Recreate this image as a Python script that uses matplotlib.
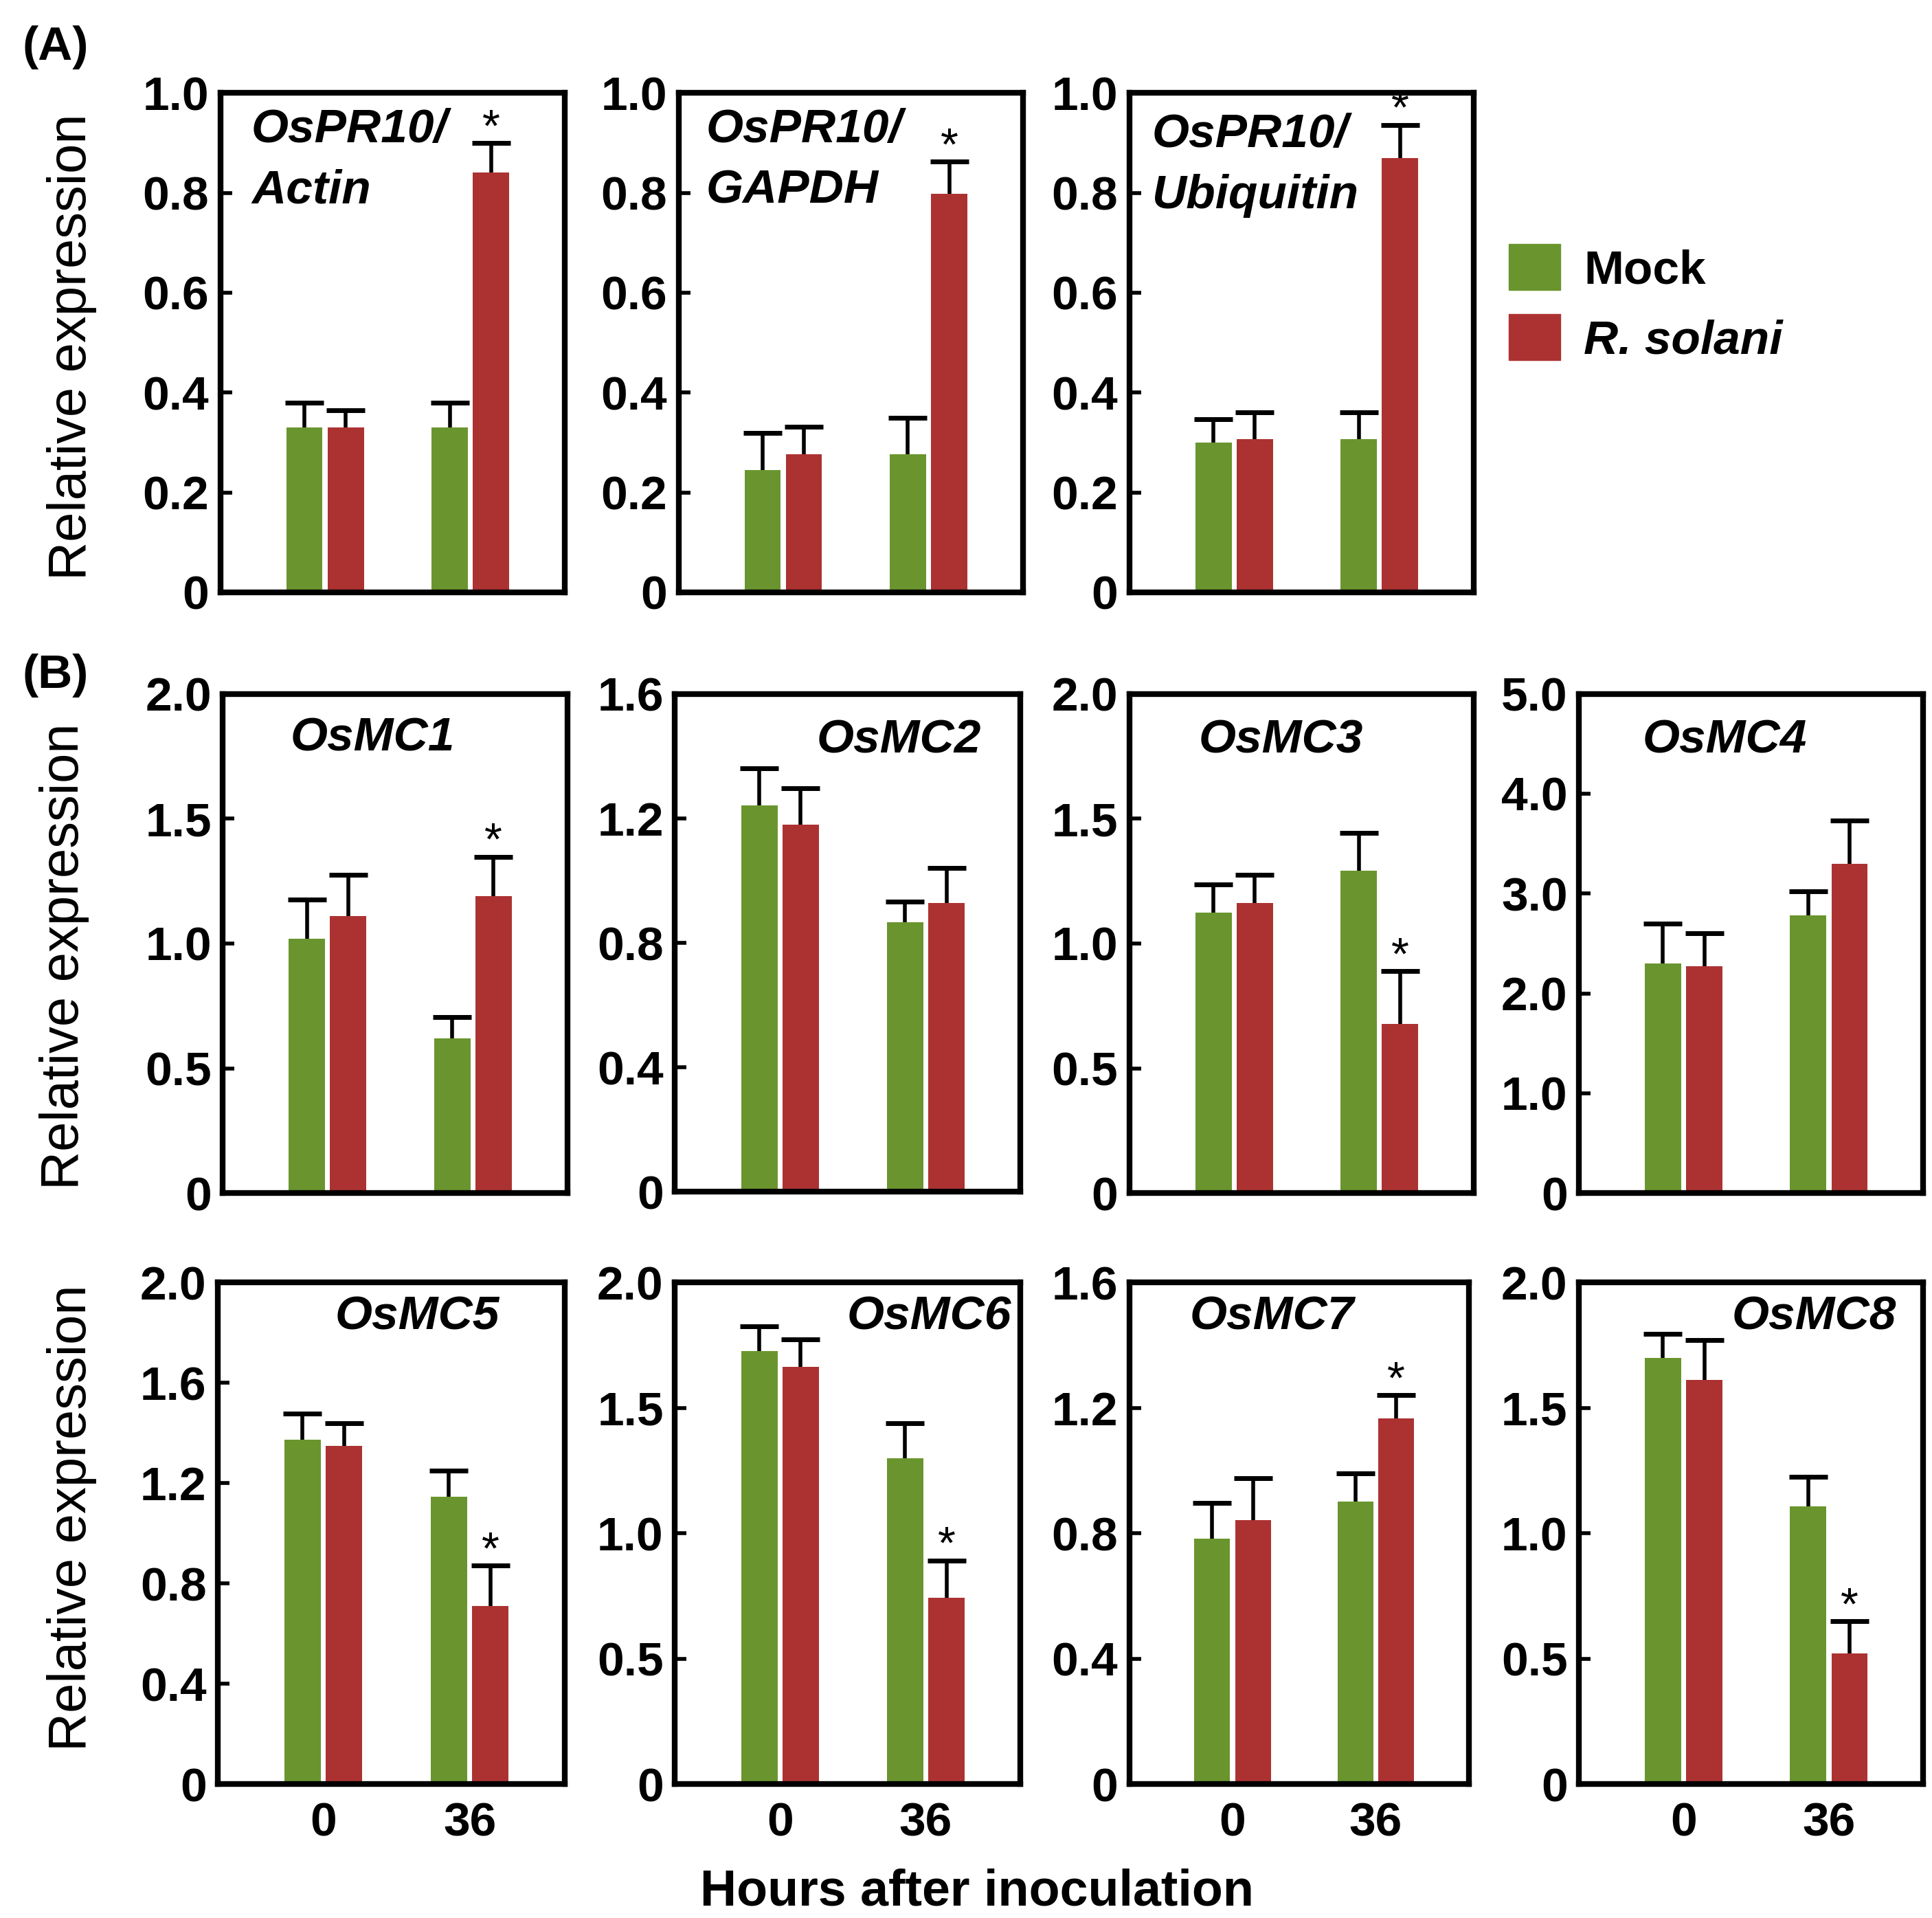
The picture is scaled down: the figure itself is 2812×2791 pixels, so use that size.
import matplotlib.pyplot as plt
from matplotlib.patches import Patch

plt.rcParams['font.family'] = ['Liberation Sans', 'DejaVu Sans']

# data: [0 h, 36 h]
genes = ['OsPR10/Actin', 'OsPR10/GAPDH', 'OsPR10/Ubiquitin',
         'OsMC1', 'OsMC2', 'OsMC3', 'OsMC4',
         'OsMC5', 'OsMC6', 'OsMC7', 'OsMC8']
hours = ['0', '36']
mock = [[0.33, 0.33], [0.245, 0.276], [0.30, 0.307],
        [1.02, 0.62], [1.241, 0.867], [1.123, 1.293], [2.30, 2.78],
        [1.373, 1.147], [1.727, 1.299], [0.782, 0.902], [1.70, 1.107]]
mock_sd = [[0.05, 0.05], [0.074, 0.074], [0.047, 0.054],
           [0.156, 0.086], [0.12, 0.065], [0.113, 0.151], [0.40, 0.24],
           [0.103, 0.103], [0.099, 0.139], [0.114, 0.089], [0.095, 0.119]]
rsol = [[0.33, 0.84], [0.276, 0.798], [0.307, 0.869],
        [1.11, 1.19], [1.179, 0.929], [1.161, 0.677], [2.27, 3.30],
        [1.349, 0.71], [1.664, 0.743], [0.843, 1.166], [1.61, 0.52]]
rsol_sd = [[0.035, 0.06], [0.056, 0.064], [0.054, 0.067],
           [0.165, 0.158], [0.118, 0.111], [0.114, 0.213], [0.33, 0.43],
           [0.089, 0.162], [0.11, 0.149], [0.133, 0.075], [0.16, 0.13]]
signif = [True, True, True, True, False, True, False, True, True, True, True]
y_max = [1.0, 1.0, 1.0, 2.0, 1.6, 2.0, 5.0, 2.0, 2.0, 1.6, 2.0]
y_step = [0.2, 0.2, 0.2, 0.5, 0.4, 0.5, 1.0, 0.4, 0.5, 0.4, 0.5]

green = '#6A952E'
red = '#AC3232'
FS = 50

W, H = 1560, 1548  # reference layout units
def box(l, t, r, b):
    return [l / W, 1 - b / H, (r - l) / W, (b - t) / H]

boxes = [box(178, 75, 456, 478), box(548, 75, 826, 478), box(912, 75, 1190, 478),
         box(180, 560, 458, 963), box(545, 560, 824, 962), box(912, 560, 1190, 963), box(1275, 560, 1553, 963),
         box(176, 1035, 456, 1440), box(545, 1035, 824, 1440), box(912, 1035, 1186, 1440), box(1275, 1035, 1553, 1440)]

# gene label placement (x, y in axes fraction, ha)
label_pos = [(0.09, 0.97, 'left'), (0.079, 0.97, 'left'), (0.065, 0.96, 'left'),
             (0.435, 0.955, 'center'), (0.649, 0.95, 'center'), (0.439, 0.95, 'center'), (0.424, 0.95, 'center'),
             (0.575, 0.975, 'center'), (0.735, 0.975, 'center'), (0.42, 0.975, 'center'), (0.683, 0.975, 'center')]

fig = plt.figure(figsize=(28.12, 27.91), dpi=100)

x = [0, 1]
bw = 0.25
off = 0.142
for i in range(len(genes)):
    ax = fig.add_axes(boxes[i])
    xm = [v - off for v in x]
    xr = [v + off for v in x]
    ekw = dict(elinewidth=4, capsize=20, capthick=5, ecolor='black')
    b1 = ax.bar(xm, mock[i], width=bw, color=green, yerr=[[0, 0], mock_sd[i]], error_kw=ekw, zorder=2)
    b2 = ax.bar(xr, rsol[i], width=bw, color=red, yerr=[[0, 0], rsol_sd[i]], error_kw=ekw, zorder=2)
    # only the upper cap, like the original T-bars
    for b in (b1, b2):
        b.errorbar.lines[1][0].set_visible(False)
    if signif[i]:
        ax.annotate('*', (xr[1], rsol[i][1] + rsol_sd[i][1]), xytext=(0, 2),
                    textcoords='offset points', ha='center', va='baseline', fontsize=48)
    ax.set_xlim(-0.72, 1.65)
    ax.set_ylim(0, y_max[i])
    n = int(round(y_max[i] / y_step[i]))
    ticks = [k * y_step[i] for k in range(n + 1)]
    ax.set_yticks(ticks)
    ax.set_yticklabels(['0' if t == 0 else f'{t:.1f}' for t in ticks], fontsize=FS, fontweight='bold')
    ax.tick_params(axis='y', direction='in', length=12, width=4, pad=12)
    ax.tick_params(axis='x', length=0, pad=18)
    if i >= 7:
        ax.set_xticks(x)
        ax.set_xticklabels(hours, fontsize=FS, fontweight='bold')
    else:
        ax.set_xticks([])
    for s in ax.spines.values():
        s.set_linewidth(6)
    lx, ly, ha = label_pos[i]
    if '/' in genes[i]:
        first, second = genes[i].split('/')
        ax.text(lx, ly, first + '/', transform=ax.transAxes, ha=ha, va='top',
                fontsize=FS, fontweight='bold', fontstyle='italic')
        ax.text(lx, ly - 0.122, second, transform=ax.transAxes, ha=ha, va='top',
                fontsize=FS, fontweight='bold', fontstyle='italic')
    else:
        ax.text(lx, ly, genes[i], transform=ax.transAxes, ha=ha, va='top',
                fontsize=FS, fontweight='bold', fontstyle='italic')

# row labels
for yc, xc in [(280, 58), (772, 52), (1225, 58)]:
    fig.text(xc / W, 1 - yc / H, 'Relative expression', rotation=90,
             ha='center', va='center', fontsize=56)
fig.text(45 / W, 1 - 38 / H, '(A)', ha='center', va='center', fontsize=FS, fontweight='bold')
fig.text(45 / W, 1 - 545 / H, '(B)', ha='center', va='center', fontsize=FS, fontweight='bold')
fig.text(789 / W, 1 - 1527 / H, 'Hours after inoculation', ha='center', va='center',
         fontsize=53, fontweight='bold')

handles = [Patch(color=green), Patch(color=red)]
leg = fig.legend(handles, ['Mock', 'R. solani'], loc='upper left',
                 bbox_to_anchor=(1218 / W, 1 - 197 / H), frameon=False,
                 handlelength=1.08, handleheight=1.1, handletextpad=0.5,
                 labelspacing=0.45, borderpad=0, borderaxespad=0,
                 prop=dict(size=FS, weight='bold'))
leg.get_texts()[1].set_fontstyle('italic')

fig.savefig('out.png', dpi=100)
